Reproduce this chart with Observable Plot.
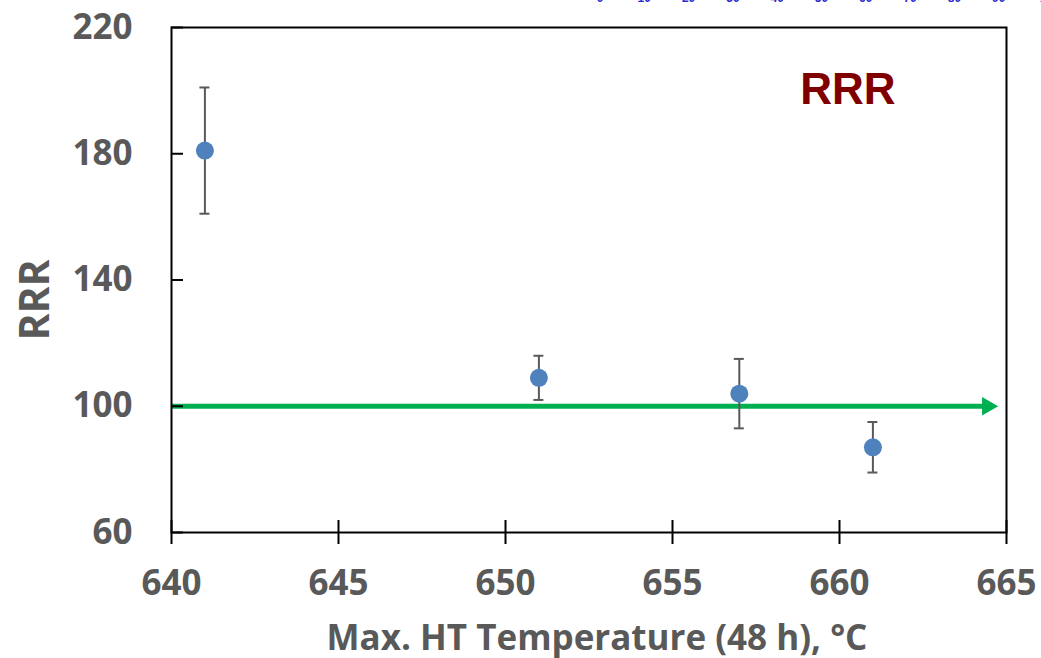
<!DOCTYPE html>
<html>
<head>
<meta charset="utf-8">
<script src="https://cdn.jsdelivr.net/npm/d3@7"></script>
<script src="https://cdn.jsdelivr.net/npm/@observablehq/plot@0.6"></script>
<style>
  html, body { margin: 0; padding: 0; background: #fff; }
  #wrap { position: relative; width: 1041px; height: 658px; overflow: hidden; }
  #strip { position: absolute; top: -9px; left: 0; width: 1041px; height: 14px; }
  #strip span { position: absolute; transform: translateX(-50%); font: bold 12px "Liberation Sans", Arial, sans-serif; color: #2a2ad0; }
</style>
</head>
<body>
<div id="wrap"><div id="strip"></div><div id="chart"></div></div>
<script>
// Data
const temps = [641, 651, 657, 661];
const rrr = [181, 109, 104, 87];
const errLo = [161, 102, 93, 79];
const errHi = [201, 116, 115, 95];
const xTicks = [640, 645, 650, 655, 660, 665];
const yTicks = [60, 100, 140, 180, 220];
const threshold = 100;
const arrowFrom = 640;
const arrowTo = 664.75;
const stripLabels = ["0", "10", "20", "30", "40", "50", "60", "70", "80", "90", "1"];

const data = temps.map((t, i) => ({t, v: rrr[i], lo: errLo[i], hi: errHi[i]}));
const grey = "#595959";
const font = "'Open Sans', sans-serif";

const chart = Plot.plot({
  width: 1041,
  height: 658,
  marginLeft: 171,
  marginRight: 35,
  marginTop: 27,
  marginBottom: 126,
  style: {background: "white", fontFamily: font},
  x: {domain: [640, 665]},
  y: {domain: [60, 220]},
  marks: [
    Plot.ruleY([threshold], {x1: arrowFrom, x2: arrowTo, stroke: "#00b050", strokeWidth: 5, insetRight: 10}),
    Plot.dot([threshold], {x: arrowTo, y: d => d, symbol: "triangle", r: 6.9, rotate: 90, fill: "#00b050", stroke: "none", dx: -10.7}),
    Plot.ruleX(data, {x: "t", y1: "lo", y2: "hi", stroke: grey, strokeWidth: 2}),
    Plot.ruleY(data, {x1: "t", x2: "t", y: "lo", stroke: grey, strokeWidth: 2, insetLeft: -5, insetRight: -5}),
    Plot.ruleY(data, {x1: "t", x2: "t", y: "hi", stroke: grey, strokeWidth: 2, insetLeft: -5, insetRight: -5}),
    Plot.dot(data, {x: "t", y: "v", r: 9, fill: "#4f81bd", stroke: "none"}),
    Plot.tickY(yTicks, {y: d => d, stroke: "black", strokeWidth: 2, insetRight: 835 - 12}),
    Plot.tickX(xTicks, {x: d => d, stroke: "black", strokeWidth: 2, insetTop: 505 - 12}),
    Plot.axisX({ticks: xTicks, tickSize: 12, strokeWidth: 2, stroke: "black", tickPadding: 26, fontSize: 35, fontWeight: "bold", fill: grey, label: null}),
    Plot.axisY({ticks: yTicks, tickSize: 0, tickPadding: 39, fontSize: 35, fontWeight: "bold", fill: grey, label: null}),
    Plot.frame({stroke: "black", strokeWidth: 2}),
    Plot.text(["Max. HT Temperature (48 h), °C"], {frameAnchor: "bottom", dx: 8, dy: 106, lineAnchor: "middle", fontSize: 35, fontWeight: "bold", fill: grey}),
    Plot.text(["RRR"], {frameAnchor: "left", dx: -136, dy: 20, rotate: -90, textAnchor: "middle", lineAnchor: "middle", fontSize: 41, fontWeight: "bold", fill: grey}),
    Plot.text(["RRR"], {frameAnchor: "top-right", dx: -111, dy: 62, textAnchor: "end", lineAnchor: "middle", fontSize: 44, fontWeight: "bold", fill: "#800000", fontFamily: "'Liberation Sans', Arial, sans-serif"})
  ]
});
document.getElementById("chart").appendChild(chart);

const strip = document.getElementById("strip");
stripLabels.forEach((s, i) => {
  const sp = document.createElement("span");
  sp.textContent = s;
  sp.style.left = (600 + i * 44.3) + "px";
  strip.appendChild(sp);
});
</script>
</body>
</html>
